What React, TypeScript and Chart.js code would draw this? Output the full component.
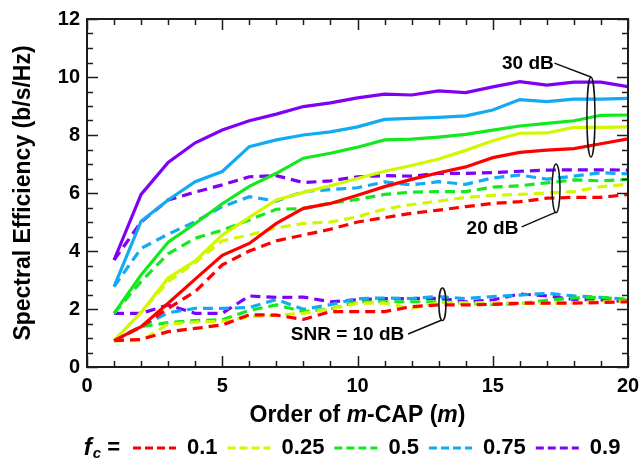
import React, { useEffect, useRef } from "react";
import { Chart, registerables } from "chart.js";

Chart.register(...registerables);

const FONT = "'Liberation Sans', Arial, sans-serif";
Chart.defaults.font.family = FONT;
Chart.defaults.color = "#000";

// ---------- data ----------
const orders = [1, 2, 3, 4, 5, 6, 7, 8, 9, 10, 11, 12, 13, 14, 15, 16, 17, 18, 19, 20];
const fcLabels = ["0.1", "0.25", "0.5", "0.75", "0.9"];
const fcColors = ["#ff0000", "#d2f800", "#14e81e", "#12aaf2", "#7f00f5"];
const xTickValues = [0, 5, 10, 15, 20];
const yTickValues = [0, 2, 4, 6, 8, 10, 12];

// SNR = 30 dB (solid)
const se30_fc01 = [0.91, 1.39, 2.2, 3.03, 3.85, 4.26, 4.95, 5.47, 5.64, 5.92, 6.22, 6.47, 6.7, 6.9, 7.22, 7.4, 7.48, 7.53, 7.7, 7.87];
const se30_fc025 = [0.91, 1.88, 3.07, 3.66, 4.55, 5.16, 5.76, 6.02, 6.25, 6.5, 6.75, 6.95, 7.17, 7.47, 7.8, 8.06, 8.07, 8.26, 8.26, 8.28];
const se30_fc05 = [1.85, 3.17, 4.3, 4.95, 5.63, 6.23, 6.68, 7.2, 7.37, 7.58, 7.83, 7.86, 7.93, 8.02, 8.17, 8.31, 8.4, 8.49, 8.68, 8.69];
const se30_fc075 = [2.77, 5.03, 5.76, 6.39, 6.74, 7.6, 7.83, 8.0, 8.11, 8.28, 8.54, 8.57, 8.61, 8.66, 8.86, 9.22, 9.15, 9.24, 9.24, 9.26];
const se30_fc09 = [3.69, 5.95, 7.05, 7.73, 8.17, 8.49, 8.72, 8.98, 9.11, 9.28, 9.41, 9.38, 9.52, 9.46, 9.66, 9.84, 9.72, 9.82, 9.82, 9.67];

// SNR = 20 dB (dashed)
const se20_fc01 = [0.91, 1.39, 2.02, 2.6, 3.52, 4.0, 4.35, 4.55, 4.75, 5.0, 5.15, 5.3, 5.41, 5.53, 5.64, 5.7, 5.82, 5.85, 5.85, 5.95];
const se20_fc025 = [0.91, 1.88, 2.95, 3.6, 4.35, 4.55, 4.8, 4.95, 5.0, 5.18, 5.45, 5.6, 5.72, 5.85, 5.92, 5.95, 6.0, 6.05, 6.22, 6.3];
const se20_fc05 = [1.85, 2.95, 3.9, 4.44, 4.72, 5.07, 5.44, 5.46, 5.65, 5.78, 5.95, 6.03, 6.05, 6.05, 6.2, 6.25, 6.35, 6.45, 6.42, 6.47];
const se20_fc075 = [2.77, 4.09, 4.58, 5.01, 5.53, 5.87, 5.72, 6.05, 6.12, 6.18, 6.38, 6.28, 6.39, 6.3, 6.52, 6.62, 6.48, 6.58, 6.7, 6.66];
const se20_fc09 = [3.69, 5.0, 5.76, 6.03, 6.28, 6.56, 6.6, 6.36, 6.42, 6.56, 6.6, 6.58, 6.68, 6.68, 6.7, 6.75, 6.79, 6.8, 6.8, 6.79];

// SNR = 10 dB (dashed)
const se10_fc01 = [0.91, 0.95, 1.22, 1.33, 1.45, 1.8, 1.79, 1.64, 1.91, 1.91, 1.91, 2.08, 2.14, 2.14, 2.16, 2.2, 2.2, 2.2, 2.22, 2.25];
const se10_fc025 = [0.91, 0.91, 1.48, 1.55, 1.58, 1.73, 1.79, 1.85, 2.0, 2.2, 2.2, 2.02, 2.22, 2.21, 2.22, 2.2, 2.2, 2.22, 2.25, 2.25];
const se10_fc05 = [0.91, 1.39, 1.53, 1.6, 1.63, 1.95, 2.14, 1.91, 2.0, 2.25, 2.25, 2.25, 2.25, 2.2, 2.16, 2.18, 2.3, 2.38, 2.4, 2.31];
const se10_fc075 = [0.91, 1.39, 1.87, 2.02, 2.02, 2.05, 2.33, 1.99, 2.15, 2.36, 2.38, 2.36, 2.43, 2.36, 2.43, 2.48, 2.54, 2.45, 2.4, 2.33];
const se10_fc09 = [1.85, 1.85, 2.14, 1.85, 1.85, 2.45, 2.4, 2.41, 2.25, 2.32, 2.36, 2.36, 2.37, 2.25, 2.31, 2.52, 2.45, 2.33, 2.31, 2.25];

// annotation callouts (data coordinates)
const callouts = [
  { text: "30 dB", tx: 16.3, ty: 10.47, line: [17.28, 10.48, 18.63, 10.0], ell: [18.63, 8.62, 4, 1.38] },
  { text: "20 dB", tx: 14.99, ty: 4.77, line: [16.07, 4.83, 17.34, 5.34], ell: [17.34, 6.16, 4, 0.84] },
  { text: "SNR = 10 dB", tx: 9.63, ty: 1.12, line: [11.87, 1.14, 13.12, 1.62], ell: [13.14, 2.16, 3.5, 0.56] },
];

// ---------- styles ----------
const DASH = [10, 6];
const LEGEND_DASH = [8, 4];
const LINE_W = 3.2;
const LEGEND_START_X = 133;

const groups = [
  { dash: [] as number[], values: [se30_fc01, se30_fc025, se30_fc05, se30_fc075, se30_fc09], legend: false },
  { dash: DASH, values: [se20_fc01, se20_fc025, se20_fc05, se20_fc075, se20_fc09], legend: false },
  { dash: DASH, values: [se10_fc01, se10_fc025, se10_fc05, se10_fc075, se10_fc09], legend: true },
];

const datasets: any[] = [];
groups.forEach((g) => {
  g.values.forEach((vals, i) => {
    datasets.push({
      label: fcLabels[i],
      data: vals.map((v, k) => ({ x: orders[k], y: v })),
      borderColor: fcColors[i],
      backgroundColor: fcColors[i],
      borderWidth: LINE_W,
      borderDash: g.dash,
      pointRadius: 0,
      tension: 0,
      fill: false,
      showInLegend: g.legend,
    });
  });
});

const decorations = {
  id: "decorations",
  afterLayout(chart: any) {
    const lg = chart.legend;
    if (lg && lg.lineWidths) {
      const pad = lg.options.labels.padding;
      const start = (lg.left + pad + lg.right - lg.lineWidths[0]) / 2;
      const shift = LEGEND_START_X - start;
      lg.left += shift;
      lg.right += shift;
    }
  },
  afterDatasetsDraw(chart: any) {
    const { ctx, chartArea, scales } = chart;
    const { left, right, top, bottom } = chartArea;
    const xs = scales.x;
    const ys = scales.y;
    ctx.save();
    ctx.strokeStyle = "#1c1c1c";
    ctx.lineWidth = 1.5;
    ctx.setLineDash([]);
    ctx.beginPath();
    for (let v = 0; v <= 20; v += 1) {
      const px = Math.round(xs.getPixelForValue(v)) + 0.5;
      const len = v % 5 === 0 ? 11 : 6;
      ctx.moveTo(px, bottom); ctx.lineTo(px, bottom - len);
      ctx.moveTo(px, top); ctx.lineTo(px, top + len);
    }
    for (let v = 0; v <= 12.001; v += 0.5) {
      const py = Math.round(ys.getPixelForValue(v)) + 0.5;
      const len = Math.abs(v % 2) < 1e-6 ? 11 : 6;
      ctx.moveTo(left, py); ctx.lineTo(left + len, py);
      ctx.moveTo(right, py); ctx.lineTo(right - len, py);
    }
    ctx.stroke();
    ctx.lineWidth = 2;
    ctx.strokeRect(left, top, right - left, bottom - top);

    // callouts
    ctx.lineWidth = 1.5;
    ctx.strokeStyle = "#111";
    ctx.fillStyle = "#000";
    ctx.font = `bold 19px ${FONT}`;
    ctx.textAlign = "center";
    ctx.textBaseline = "middle";
    callouts.forEach((c) => {
      const [ex, ey, rx, ry] = c.ell;
      const cx = xs.getPixelForValue(ex);
      const cy = ys.getPixelForValue(ey);
      const pry = Math.abs(ys.getPixelForValue(ey + ry) - cy);
      ctx.beginPath();
      ctx.ellipse(cx, cy, rx, pry, 0, 0, Math.PI * 2);
      ctx.stroke();
      const [x1, y1, x2, y2] = c.line;
      ctx.beginPath();
      ctx.moveTo(xs.getPixelForValue(x1), ys.getPixelForValue(y1));
      ctx.lineTo(xs.getPixelForValue(x2), ys.getPixelForValue(y2));
      ctx.stroke();
      ctx.fillText(c.text, xs.getPixelForValue(c.tx), ys.getPixelForValue(c.ty));
    });
    ctx.restore();
  },
  afterDraw(chart: any) {
    const { ctx, chartArea } = chart;
    ctx.save();
    ctx.fillStyle = "#000";
    ctx.textBaseline = "middle";
    ctx.textAlign = "left";
    // x axis title with italic m
    const parts: [string, boolean][] = [["Order of ", false], ["m", true], ["-CAP (", false], ["m", true], [")", false]];
    const size = 23;
    let total = 0;
    parts.forEach(([t, it]) => {
      ctx.font = `${it ? "italic " : ""}bold ${size}px ${FONT}`;
      total += ctx.measureText(t).width;
    });
    let x = (chartArea.left + chartArea.right) / 2 - total / 2;
    const y = chartArea.bottom + 49;
    parts.forEach(([t, it]) => {
      ctx.font = `${it ? "italic " : ""}bold ${size}px ${FONT}`;
      ctx.fillText(t, x, y);
      x += ctx.measureText(t).width;
    });
    // legend prefix f_c =
    const lg = chart.legend;
    if (lg && lg.legendHitBoxes && lg.legendHitBoxes.length) {
      const hb = lg.legendHitBoxes[0];
      const ly = hb.top + hb.height / 2;
      ctx.font = `bold 22px ${FONT}`;
      const eqW = ctx.measureText(" =").width;
      ctx.font = `italic bold 15px ${FONT}`;
      const cW = ctx.measureText("c").width;
      ctx.font = `italic bold 24px ${FONT}`;
      const fW = ctx.measureText("f").width;
      const endX = hb.left - 13;
      let px = endX - eqW - cW - fW - 1;
      ctx.fillText("f", px, ly);
      px += fW + 1;
      ctx.font = `italic bold 15px ${FONT}`;
      ctx.fillText("c", px, ly + 6);
      px += cW;
      ctx.font = `bold 22px ${FONT}`;
      ctx.fillText(" =", px, ly);
    }
    ctx.restore();
  },
};

export default function App() {
  const ref = useRef<HTMLCanvasElement>(null);
  useEffect(() => {
    const canvas = ref.current;
    if (!canvas) return;
    const chart = new Chart(canvas, {
      type: "line",
      data: { datasets },
      options: {
        responsive: false,
        animation: false,
        events: [],
        layout: { padding: { left: 0, top: 19, right: 14, bottom: 0 } },
        scales: {
          x: {
            type: "linear",
            min: 0,
            max: 20,
            grid: { display: false, drawTicks: false },
            border: { display: false },
            afterBuildTicks: (s: any) => { s.ticks = xTickValues.map((v) => ({ value: v })); },
            ticks: { padding: 7, font: { size: 20, weight: "bold" }, color: "#000" },
            afterFit: (s: any) => {
              s.height = 60;
              s.paddingLeft = 0;
              s.paddingRight = 0;
            },
          },
          y: {
            type: "linear",
            min: 0,
            max: 12,
            grid: { display: false, drawTicks: false },
            border: { display: false },
            afterBuildTicks: (s: any) => { s.ticks = yTickValues.map((v) => ({ value: v })); },
            ticks: { padding: 7, font: { size: 20, weight: "bold" }, color: "#000" },
            title: {
              display: true,
              text: "Spectral Efficiency (b/s/Hz)",
              font: { size: 23, weight: "bold" },
              color: "#000",
              padding: { top: 10, bottom: 0 },
            },
            afterFit: (s: any) => {
              s.width = 87;
              s.paddingTop = 0;
              s.paddingBottom = 0;
            },
          },
        },
        plugins: {
          legend: {
            position: "bottom",
            maxHeight: 37,
            labels: {
              usePointStyle: true,
              pointStyle: "line",
              pointStyleWidth: 43,
              padding: 10,
              color: "#000",
              font: { size: 22, weight: "bold" },
              generateLabels: (ch: any) =>
                Chart.defaults.plugins.legend.labels.generateLabels(ch).map((it: any) => ({
                  ...it,
                  lineDash: LEGEND_DASH,
                  lineWidth: LINE_W,
                })),
              filter: (item: any, data: any) => !!data.datasets[item.datasetIndex].showInLegend,
            },
          },
          tooltip: { enabled: false },
        },
      } as any,
      plugins: [decorations],
    });
    return () => chart.destroy();
  }, []);
  return (
    <div style={{ position: "fixed", left: 0, top: 0, width: 642, height: 464, background: "#fff" }}>
      <canvas ref={ref} width={642} height={464} style={{ display: "block" }} />
    </div>
  );
}
